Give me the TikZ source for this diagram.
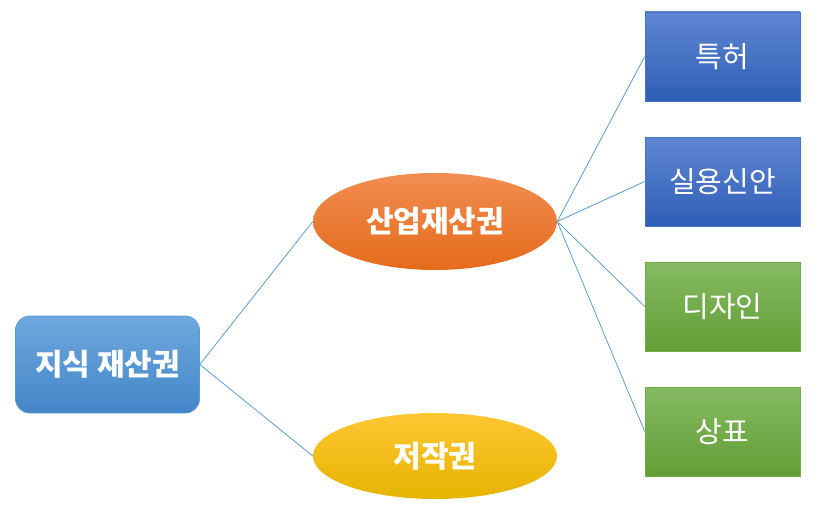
\documentclass[tikz,border=0pt]{standalone}
\usepackage{fontspec}
\newfontfamily\kr{Noto Sans CJK KR}
\usetikzlibrary{shapes.geometric}
\definecolor{lnblue}{HTML}{5B9BD5}
\definecolor{rtop}{HTML}{6FA8DE}
\definecolor{rbot}{HTML}{4386C9}
\definecolor{rdraw}{HTML}{5B9BD5}
\definecolor{otop}{HTML}{F28D52}
\definecolor{obot}{HTML}{E46B1A}
\definecolor{ytop}{HTML}{FFC633}
\definecolor{ybot}{HTML}{E6B400}
\definecolor{btop}{HTML}{5F86D2}
\definecolor{bbot}{HTML}{2F5EB6}
\definecolor{bdraw}{HTML}{4472C4}
\definecolor{gtop}{HTML}{85BA63}
\definecolor{gbot}{HTML}{629E35}
\definecolor{gdraw}{HTML}{70AD47}
\tikzset{
  x=1pt,y=-1pt,
  conn/.style={draw=lnblue,line width=0.8pt},
  rootbox/.style={rounded corners=14pt,minimum width=184pt,minimum height=97pt,draw=rdraw,line width=0.6pt,top color=rtop,bottom color=rbot,text=white,font=\kr\bfseries\fontsize{30}{34}\selectfont},
  ell/.style={ellipse,minimum width=244pt,inner sep=0pt,text=white,font=\kr\bfseries\fontsize{30}{34}\selectfont},
  leaf/.style={rectangle,minimum width=155pt,minimum height=89pt,line width=0.6pt,text=white,font=\kr\fontsize{29}{33}\selectfont},
  bleaf/.style={leaf,draw=bdraw,top color=btop,bottom color=bbot},
  gleaf/.style={leaf,draw=gdraw,top color=gtop,bottom color=gbot}
}
\begin{document}
\begin{tikzpicture}
\useasboundingbox (0,0) rectangle (824,516);
\node[rootbox] (root) at (107.5,364.5) {지식 재산권};
\node[ell,minimum height=97pt,top color=otop,bottom color=obot] (ind) at (435,221.5) {산업재산권};
\node[ell,minimum height=86pt,top color=ytop,bottom color=ybot] (cop) at (435,456) {저작권};
\node[bleaf] (p) at (722.5,56.5) {특허};
\node[bleaf] (u) at (722.5,181.5) {실용신안};
\node[gleaf] (d) at (722.5,306.5) {디자인};
\node[gleaf] (t) at (722.5,431.5) {상표};
\draw[conn] (root.east) -- (ind.west);
\draw[conn] (root.east) -- (cop.west);
\draw[conn] (ind.east) -- (p.west);
\draw[conn] (ind.east) -- (u.west);
\draw[conn] (ind.east) -- (d.west);
\draw[conn] (ind.east) -- (t.west);
\end{tikzpicture}
\end{document}
